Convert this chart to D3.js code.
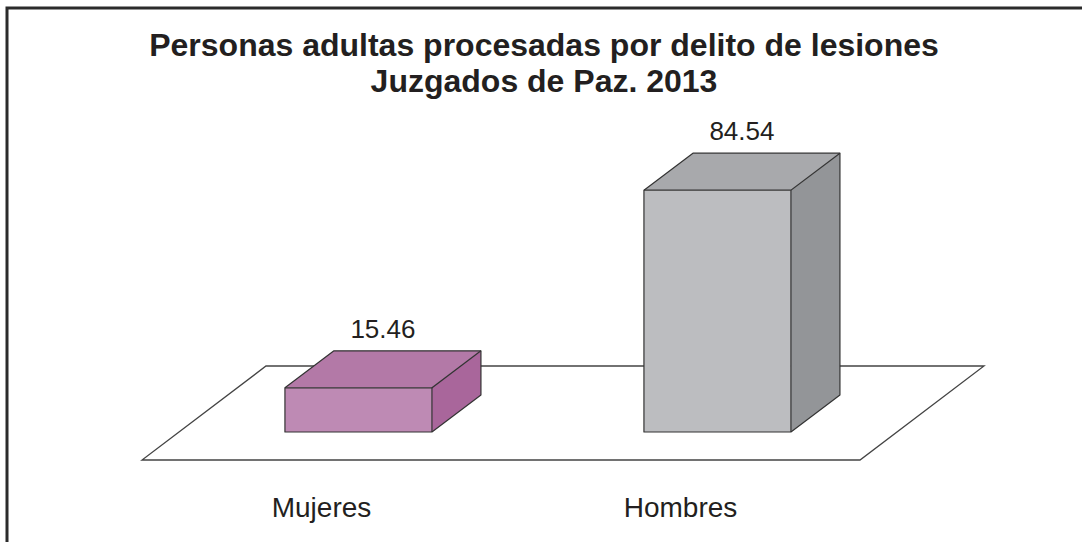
<!DOCTYPE html>
<html>
<head>
<meta charset="utf-8">
<script src="https://cdn.jsdelivr.net/npm/d3@7"></script>
<style>
	body { margin: 0; background: #fff; }
	svg { display: block; font-family: "Liberation Sans", Arial, sans-serif; }
</style>
</head>
<body>
<svg id="chart" width="1082" height="542"></svg>
<script>
const categories = ["Mujeres", "Hombres"];
const values = [15.46, 84.54];
const titleLines = ["Personas adultas procesadas por delito de lesiones", "Juzgados de Paz. 2013"];

const faceColors = {
	Mujeres: { front: "#be8ab4", top: "#b379a7", side: "#a9669b" },
	Hombres: { front: "#bcbdc0", top: "#a8a9ac", side: "#939598" }
};

const stroke = "#333";

// floor (front edge and depth)
const floorFront = { x0: 142, x1: 860, y: 460 };
const floorDepth = { dx: 124, dy: -94 };
// bars stand a bit behind the floor front edge
const barBack = 28;
const barShift = { dx: barBack * floorDepth.dx / -floorDepth.dy, dy: -barBack };
const barDepth = { dx: 49, dy: -37 };
const barWidth = 147;

const svg = d3.select("#chart");

// frame
svg.append("rect")
	.attr("x", 7)
	.attr("y", 8)
	.attr("width", 1100)
	.attr("height", 600)
	.attr("fill", "none")
	.attr("stroke", "#2b2b2b")
	.attr("stroke-width", 3);

// title
svg.append("text")
	.attr("text-anchor", "middle")
	.attr("font-weight", "bold")
	.attr("font-size", 32)
	.attr("fill", "#231f20")
	.selectAll("tspan")
	.data(titleLines)
	.join("tspan")
	.attr("x", 544)
	.attr("y", (d, i) => 56 + i * 36)
	.text(d => d);

const x = d3.scaleBand()
	.domain(categories)
	.range([floorFront.x0, floorFront.x1]);

const h = d3.scaleLinear()
	.domain([0, 100])
	.range([0, 286]);

// floor
const fx0 = floorFront.x0, fx1 = floorFront.x1, fy = floorFront.y;
svg.append("path")
	.attr("d", d3.line()([
		[fx0, fy], [fx1, fy],
		[fx1 + floorDepth.dx, fy + floorDepth.dy],
		[fx0 + floorDepth.dx, fy + floorDepth.dy]
	]) + "Z")
	.attr("fill", "#fff")
	.attr("stroke", "#444")
	.attr("stroke-width", 1.3);

const bars = svg.selectAll("g.bar")
	.data(categories.map((c, i) => ({ cat: c, value: values[i] })))
	.join("g")
	.attr("class", "bar");

bars.each(function (d) {
	const g = d3.select(this);
	const col = faceColors[d.cat];
	const x0 = x(d.cat) + (x.bandwidth() - barWidth) / 2 + barShift.dx;
	const x1 = x0 + barWidth;
	const yb = fy + barShift.dy;
	const yt = yb - h(d.value);
	const ddx = barDepth.dx, ddy = barDepth.dy;

	const poly = pts => d3.line()(pts) + "Z";

	g.append("path")
		.attr("d", poly([[x1, yb], [x1 + ddx, yb + ddy], [x1 + ddx, yt + ddy], [x1, yt]]))
		.attr("fill", col.side);
	g.append("path")
		.attr("d", poly([[x0, yt], [x1, yt], [x1 + ddx, yt + ddy], [x0 + ddx, yt + ddy]]))
		.attr("fill", col.top);
	g.append("path")
		.attr("d", poly([[x0, yb], [x1, yb], [x1, yt], [x0, yt]]))
		.attr("fill", col.front);

	// outline
	g.append("path")
		.attr("d", poly([[x0, yb], [x1, yb], [x1 + ddx, yb + ddy], [x1 + ddx, yt + ddy], [x0 + ddx, yt + ddy], [x0, yt]]))
		.attr("fill", "none")
		.attr("stroke", stroke)
		.attr("stroke-width", 1.2)
		.attr("stroke-linejoin", "round");
	g.append("path")
		.attr("d", d3.line()([[x0, yt], [x1, yt], [x1 + ddx, yt + ddy]]))
		.attr("fill", "none")
		.attr("stroke", stroke)
		.attr("stroke-width", 1.2);
	g.append("path")
		.attr("d", d3.line()([[x1, yt], [x1, yb]]))
		.attr("fill", "none")
		.attr("stroke", stroke)
		.attr("stroke-width", 1.2);

	g.append("text")
		.attr("x", (x0 + x1 + ddx) / 2)
		.attr("y", yt + ddy - 13)
		.attr("text-anchor", "middle")
		.attr("font-size", 26)
		.attr("fill", "#231f20")
		.text(d3.format(".2f")(d.value));
});

// category labels
svg.selectAll("text.cat")
	.data(categories)
	.join("text")
	.attr("class", "cat")
	.attr("x", d => x(d) + x.bandwidth() / 2)
	.attr("y", 517)
	.attr("text-anchor", "middle")
	.attr("font-size", 28)
	.attr("fill", "#231f20")
	.text(d => d);
</script>
</body>
</html>
